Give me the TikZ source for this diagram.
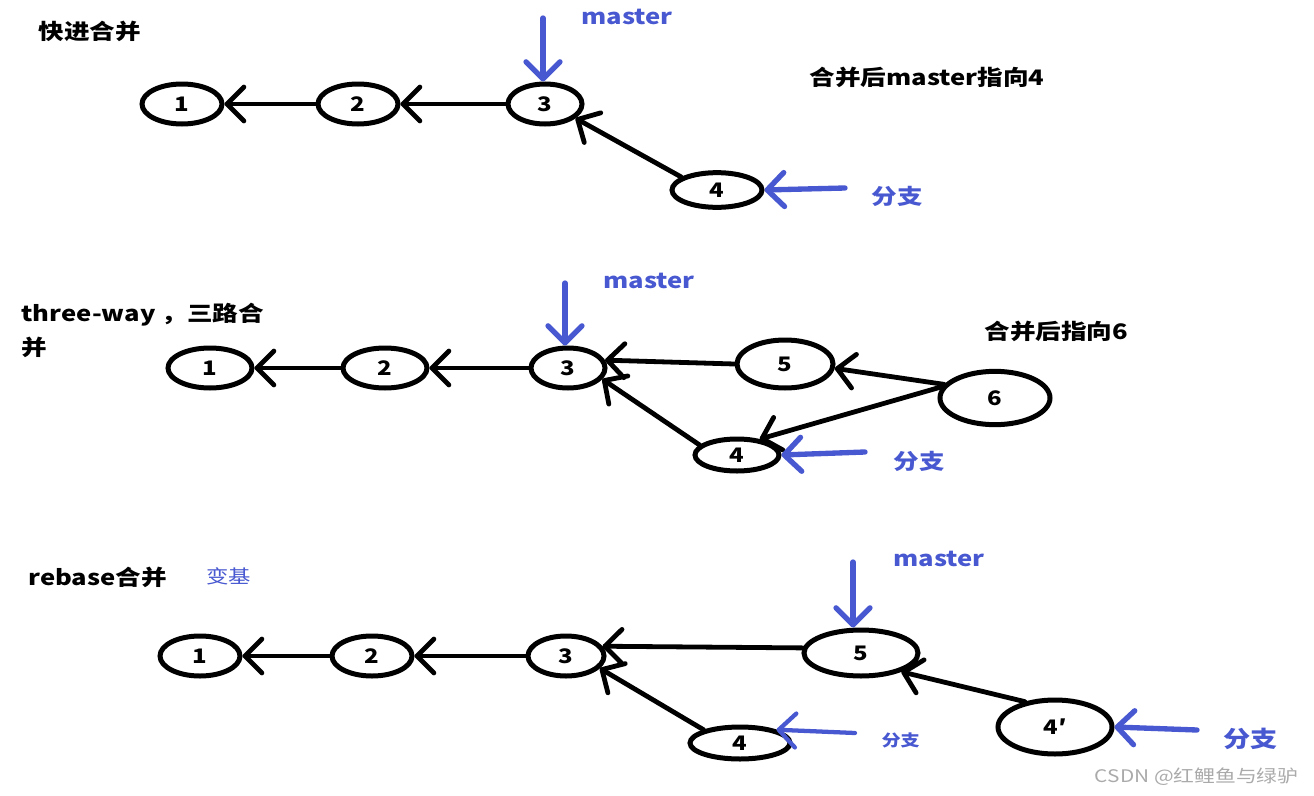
\documentclass[tikz,border=0pt]{standalone}
\usepackage{fontspec}
\setmainfont{Noto Sans CJK SC}
\usetikzlibrary{shapes.geometric,arrows.meta}
\definecolor{markblue}{RGB}{72,88,208}
\definecolor{markgray}{RGB}{170,170,170}
\newcommand{\wide}[1]{\scalebox{1.2}[1]{#1}}
\tikzset{every picture/.style={line width=0.75pt}}
\tikzset{
  commit/.style={draw, ellipse, line width=3.75pt, inner sep=0pt, font=\bfseries\fontsize{15}{15}\selectfont},
  link/.style={line width=3.6pt, line cap=round, -{Straight Barb[angle=90:18pt, round]}},
  pointer/.style={draw=markblue, line width=4pt, line cap=round, -{Straight Barb[angle=90:18pt, round]}},
  heading/.style={anchor=west, inner sep=0.75pt, font=\bfseries\fontsize{16}{25}\selectfont},
  bluetag/.style={anchor=west, inner sep=0.75pt, text=markblue, font=\bfseries\fontsize{16}{20}\selectfont},
}

\begin{document}
\begin{tikzpicture}[x=0.75pt,y=0.75pt,yscale=-1,xscale=1]
\useasboundingbox (0,0) rectangle (1314,796);

%% fast-forward merge
% Text Node
\node[heading] (ffTitle) at (37,31) {\wide{快进合并}};
% Text Node
\node[heading] (ffNote) at (808,77) {\wide{合并后master指向4}};
% Text Node
\node[bluetag] (ffMasterTag) at (580,17) {\wide{master}};
% Text Node
\node[bluetag] (ffBranchTag) at (870,196) {\wide{分支}};

%Shape: Ellipse
\node[commit, minimum width=60pt, minimum height=30pt] (ff1) at (182,104) {\wide{1}};
\node[commit, minimum width=60pt, minimum height=30pt] (ff2) at (358,104) {\wide{2}};
\node[commit, minimum width=55.5pt, minimum height=30pt] (ff3) at (545,104) {\wide{3}};
\node[commit, minimum width=67.5pt, minimum height=26pt] (ff4) at (717,190) {\wide{4}};

%Straight Lines
\draw[link] (ff2) -- (ff1);
\draw[link] (ff3) -- (ff2);
\draw[link] (ff4.160) -- (ff3.-25);

\coordinate (ffMaster) at (543,18);
\coordinate (ffBranch) at (845,188);
\draw[pointer] (ffMaster) -- (ffMaster |- ff3.north);
\draw[pointer] (ffBranch) -- (ff4.east);

%% three-way merge
% Text Node
\node[heading, anchor=north west, align=left] (twTitle) at (20,302) {\wide{three-way ，三路合}\\\wide{并}};
% Text Node
\node[heading] (twNote) at (983,331) {\wide{合并后指向6}};
% Text Node
\node[bluetag] (twMasterTag) at (602,281) {\wide{master}};
% Text Node
\node[bluetag] (twBranchTag) at (892,461) {\wide{分支}};

%Shape: Ellipse
\node[commit, minimum width=63pt, minimum height=30pt] (tw1) at (210,368) {\wide{1}};
\node[commit, minimum width=63pt, minimum height=30pt] (tw2) at (385,368) {\wide{2}};
\node[commit, minimum width=55.5pt, minimum height=30pt] (tw3) at (568,368) {\wide{3}};
\node[commit, minimum width=72pt, minimum height=36pt] (tw5) at (785,364) {\wide{5}};
\node[commit, minimum width=82.5pt, minimum height=40pt] (tw6) at (995,398) {\wide{6}};
\node[commit, minimum width=63pt, minimum height=24pt] (tw4) at (737,455) {\wide{4}};

%Straight Lines
\draw[link] (tw2) -- (tw1);
\draw[link] (tw3) -- (tw2);
\draw[link] (tw5.west) -- (tw3.12);
\draw[link] (tw4.165) -- (tw3.-18);
\draw[link] (tw6.165) -- (tw5.-5);
\draw[link] (tw6.168) -- (tw4.35);

\coordinate (twMaster) at (565,283);
\coordinate (twBranch) at (865,452);
\draw[pointer] (twMaster) -- (twMaster |- tw3.north);
\draw[pointer] (twBranch) -- (tw4.east);

%% rebase merge
% Text Node
\node[heading] (rbTitle) at (27,577) {\wide{rebase合并}};
% Text Node
\node[anchor=west, inner sep=0.75pt, text=markblue, font=\fontsize{14}{16}\selectfont] (rbRemark) at (205,576) {\wide{变基}};
% Text Node
\node[bluetag] (rbMasterTag) at (892,559) {\wide{master}};
% Text Node
\node[bluetag, font=\bfseries\fontsize{12}{14}\selectfont] (rbOldTag) at (880,740) {\wide{分支}};
% Text Node
\node[bluetag, font=\bfseries\fontsize{17}{20}\selectfont] (rbBranchTag) at (1222,739) {\wide{分支}};

%Shape: Ellipse
\node[commit, minimum width=60pt, minimum height=30pt] (rb1) at (200,656) {\wide{1}};
\node[commit, minimum width=60pt, minimum height=30pt] (rb2) at (372,656) {\wide{2}};
\node[commit, minimum width=57pt, minimum height=30pt] (rb3) at (566,656) {\wide{3}};
\node[commit, minimum width=85.5pt, minimum height=34.5pt] (rb5) at (861,653) {\wide{5}};
\node[commit, minimum width=75pt, minimum height=24pt] (rb4) at (740,743) {\wide{4}};
\node[commit, minimum width=85.5pt, minimum height=40.5pt] (rb4p) at (1055,727) {\wide{4′}};

%Straight Lines
\draw[link] (rb2) -- (rb1);
\draw[link] (rb3) -- (rb2);
\draw[link] (rb5.175) -- (rb3.15);
\draw[link] (rb4.160) -- (rb3.-20);
\draw[link] (rb4p.140) -- (rb5.-25);

\coordinate (rbMaster) at (853,562);
\coordinate (rbOld) at (855,733);
\coordinate (rbBranch) at (1197,730);
\draw[pointer] (rbMaster) -- (rbMaster |- rb5.north);
\draw[pointer, line width=3.2pt] (rbOld) -- (rb4.20);
\draw[pointer] (rbBranch) -- (rb4p.east);

% Text Node
\node[anchor=east, inner sep=0.75pt, text=markgray, font=\fontsize{13}{15}\selectfont] (mark) at (1300,777) {\wide{CSDN @红鲤鱼与绿驴}};

\end{tikzpicture}
\end{document}
